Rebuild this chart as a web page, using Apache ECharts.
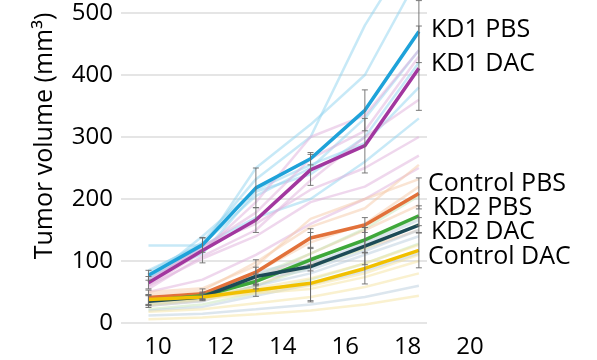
<!DOCTYPE html>
<html>
<head>
<meta charset="utf-8">
<script src="https://cdn.jsdelivr.net/npm/echarts@6/dist/echarts.min.js"></script>
<style>
html,body{margin:0;padding:0;background:#fff;}
#chart{width:597px;height:360px;}
</style>
</head>
<body>
<div id="chart"></div>
<script>
// Measurement days (x positions of the points)
const days = [9.70, 11.43, 13.14, 14.89, 16.63, 18.36];
const xTickLabels = [10, 12, 14, 16, 18, 20];
const yTicks = [0, 100, 200, 300, 400, 500];

// Group means
const kd1PBS  = [77, 126, 218, 265, 343, 470];
const kd1DAC  = [65, 117, 166, 247, 286, 411];
const ctrlPBS = [41, 47, 82, 137, 158, 209];
const kd2PBS  = [36, 44, 67, 102, 134, 173];
const kd2DAC  = [35, 42, 75, 91, 124, 158];
const ctrlDAC = [38, 42, 53, 64, 88, 117];

// Error (SEM) per group
const kd1PBSErr  = [8, 12, 32, 10, 33, 50];
const kd1DACErr  = [10, 20, 20, 25, 44, 68];
const ctrlPBSErr = [12, 8, 20, 15, 12, 25];
const kd2PBSErr  = [8, 6, 12, 18, 20, 16];
const kd2DACErr  = [10, 6, 15, 55, 30, 12];
const ctrlDACErr = [8, 5, 10, 30, 25, 28];

// Individual animals (faint lines)
const kd1PBSInd = [
  [82, 130, 232, 300, 480, 620],
  [72, 122, 250, 320, 400, 560],
  [85, 127, 205, 250, 330, 440],
  [75, 112, 212, 240, 300, 420],
  [70, 140, 215, 255, 290, 380],
  [125, 125, 170, 200, 260, 330]
];
const kd1DACInd = [
  [60, 115, 195, 300, 335, 440],
  [70, 122, 178, 265, 310, 430],
  [55, 108, 150, 230, 300, 360],
  [66, 125, 160, 215, 250, 300],
  [60, 104, 140, 195, 220, 270],
  [50, 70, 110, 160, 200, 250]
];
const ctrlPBSInd = [
  [46, 52, 98, 155, 185, 255],
  [40, 45, 82, 130, 160, 220],
  [34, 40, 70, 112, 150, 190],
  [50, 56, 92, 168, 200, 232],
  [28, 36, 60, 95, 120, 150]
];
const kd2PBSInd = [
  [40, 46, 76, 112, 152, 205],
  [30, 40, 60, 90, 120, 160],
  [36, 45, 66, 104, 132, 170],
  [22, 30, 48, 70, 96, 128]
];
const kd2DACInd = [
  [36, 46, 82, 102, 132, 172],
  [30, 38, 70, 86, 116, 150],
  [42, 46, 78, 96, 128, 166],
  [28, 35, 60, 80, 110, 140],
  [20, 26, 44, 62, 84, 112],
  [12, 15, 22, 30, 42, 60]
];
const ctrlDACInd = [
  [35, 40, 50, 60, 80, 110],
  [42, 46, 56, 72, 96, 126],
  [30, 38, 48, 55, 74, 100],
  [18, 22, 32, 42, 58, 80],
  [6, 9, 14, 20, 30, 44]
];

const groupNames = ['KD1 PBS', 'KD1 DAC', 'Control PBS', 'KD2 PBS', 'KD2 DAC', 'Control DAC'];

const groups = [
  {name: groupNames[0], mean: kd1PBS,  err: kd1PBSErr,  ind: kd1PBSInd,  color: '#1ea2d9', light: '#8fd3f0'},
  {name: groupNames[1], mean: kd1DAC,  err: kd1DACErr,  ind: kd1DACInd,  color: '#a2379f', light: '#dfb0dc'},
  {name: groupNames[2], mean: ctrlPBS, err: ctrlPBSErr, ind: ctrlPBSInd, color: '#e2713a', light: '#f6c9a8'},
  {name: groupNames[3], mean: kd2PBS,  err: kd2PBSErr,  ind: kd2PBSInd,  color: '#3ea83a', light: '#c6e6b8'},
  {name: groupNames[4], mean: kd2DAC,  err: kd2DACErr,  ind: kd2DACInd,  color: '#1d4b57', light: '#b9cedd'},
  {name: groupNames[5], mean: ctrlDAC, err: ctrlDACErr, ind: ctrlDACInd, color: '#f1c000', light: '#f6e4a0'}
];

const FONT = '"Open Sans", "Noto Sans", sans-serif';
const series = [];

// faint individual lines
groups.forEach(g => {
  g.ind.forEach(arr => {
    series.push({
      type: 'line', xAxisIndex: 0, yAxisIndex: 0, clip: false,
      data: days.map((d, i) => [d, arr[i]]),
      symbol: 'none', silent: true, z: 1,
      lineStyle: {color: g.light, width: 2.5, opacity: 0.5}
    });
  });
});

// mean lines
groups.forEach(g => {
  series.push({
    type: 'line', name: g.name, xAxisIndex: 0, yAxisIndex: 0, clip: false,
    data: days.map((d, i) => [d, g.mean[i]]),
    symbol: 'none', z: 3,
    lineStyle: {color: g.color, width: 3.5}
  });
});

// error bars
groups.forEach(g => {
  series.push({
    type: 'custom', xAxisIndex: 0, yAxisIndex: 0, clip: false, z: 4, silent: true,
    data: days.map((d, i) => [d, g.mean[i] - g.err[i], g.mean[i] + g.err[i]]),
    renderItem: function (params, api) {
      const lo = api.coord([api.value(0), api.value(1)]);
      const hi = api.coord([api.value(0), api.value(2)]);
      const w = 3;
      const st = {stroke: '#6b6b6b', lineWidth: 1, opacity: 0.9};
      return {type: 'group', children: [
        {type: 'line', shape: {x1: lo[0], y1: lo[1], x2: hi[0], y2: hi[1]}, style: st},
        {type: 'line', shape: {x1: lo[0] - w, y1: lo[1], x2: lo[0] + w, y2: lo[1]}, style: st},
        {type: 'line', shape: {x1: hi[0] - w, y1: hi[1], x2: hi[0] + w, y2: hi[1]}, style: st}
      ]};
    }
  });
});

// dummy series for label axis grid
series.push({type: 'line', xAxisIndex: 1, yAxisIndex: 1, data: [], silent: true});

const labelPos = [
  {x: 431, y: 28},
  {x: 431, y: 62},
  {x: 428, y: 182},
  {x: 433, y: 206},
  {x: 431, y: 230},
  {x: 428, y: 255}
];

const graphics = groupNames.map((n, i) => ({
  type: 'text', left: labelPos[i].x, top: labelPos[i].y - 11,
  style: {text: n, font: '25px ' + FONT, fill: '#000'}
}));
graphics.push({
  type: 'text', x: 45, y: 136, rotation: Math.PI / 2,
  style: {text: 'Tumor volume (mm³)', font: '25px ' + FONT, fill: '#000', textAlign: 'center', textVerticalAlign: 'middle'}
});

const chart = echarts.init(document.getElementById('chart'), null, {renderer: 'canvas'});
chart.setOption({
  animation: false,
  backgroundColor: '#fff',
  grid: [
    {left: 121, right: 170, top: 13, bottom: 37},
    {left: 95.6, right: 64.6, top: 13, bottom: 37}
  ],
  xAxis: [
    {type: 'value', gridIndex: 0, min: 8.82, max: 18.62, show: false, splitLine: {show: false}},
    {type: 'value', gridIndex: 1, min: 8, max: 22, interval: 2,
     axisLine: {show: false}, axisTick: {show: false}, splitLine: {show: false},
     axisLabel: {show: true, margin: 12, color: '#000', fontSize: 24, fontFamily: FONT,
       formatter: v => (xTickLabels.indexOf(v) >= 0 ? String(v) : '')}}
  ],
  yAxis: [
    {type: 'value', gridIndex: 0, min: yTicks[0], max: yTicks[yTicks.length - 1], interval: 100,
     axisLine: {show: false}, axisTick: {show: false},
     splitLine: {show: true, lineStyle: {color: '#dcdcdc', width: 1.5}},
     axisLabel: {margin: 8, color: '#000', fontSize: 24, fontFamily: FONT}},
    {type: 'value', gridIndex: 1, min: 0, max: 500, show: false, splitLine: {show: false}}
  ],
  graphic: graphics,
  series: series
});
</script>
</body>
</html>
